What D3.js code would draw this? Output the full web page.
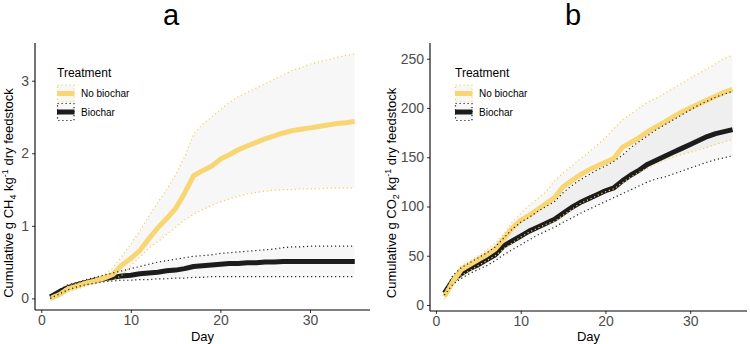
<!DOCTYPE html>
<html lang="en">
<head>
<meta charset="utf-8">
<title>Cumulative CH4 and CO2</title>
<style>
  body { margin: 0; background: #fff; }
  svg { font-family: "Liberation Sans", Arial, sans-serif; }
  .domain { display: none; }
</style>
</head>
<body>
<script src="https://cdn.jsdelivr.net/npm/d3@7"></script>
<script>

  // days of measurement
  const days = d3.range(1, 36);

  // panel a: cumulative CH4 (g per kg dry feedstock)
  const ch4NoMean = [0.00, 0.05, 0.13, 0.17, 0.21, 0.24, 0.28, 0.33, 0.46, 0.55, 0.66, 0.82, 0.97, 1.10, 1.24, 1.45, 1.69, 1.76, 1.82, 1.92, 1.98, 2.05, 2.10, 2.15, 2.20, 2.24, 2.28, 2.31, 2.33, 2.35, 2.37, 2.39, 2.41, 2.42, 2.44];
  const ch4NoHi   = [0.02, 0.08, 0.17, 0.21, 0.25, 0.29, 0.33, 0.42, 0.58, 0.75, 0.93, 1.13, 1.32, 1.50, 1.70, 1.95, 2.26, 2.40, 2.50, 2.60, 2.70, 2.78, 2.84, 2.90, 2.96, 3.02, 3.08, 3.14, 3.18, 3.23, 3.26, 3.29, 3.32, 3.35, 3.37];
  const ch4NoLo   = [-0.02, 0.02, 0.09, 0.13, 0.17, 0.20, 0.23, 0.25, 0.32, 0.45, 0.57, 0.69, 0.78, 0.88, 0.98, 1.08, 1.16, 1.22, 1.28, 1.33, 1.37, 1.41, 1.44, 1.46, 1.48, 1.49, 1.50, 1.50, 1.51, 1.51, 1.51, 1.52, 1.52, 1.52, 1.52];
  const ch4BioMean = [0.02, 0.09, 0.15, 0.19, 0.22, 0.25, 0.27, 0.29, 0.31, 0.32, 0.34, 0.35, 0.36, 0.38, 0.39, 0.41, 0.44, 0.45, 0.46, 0.47, 0.48, 0.48, 0.49, 0.49, 0.50, 0.50, 0.51, 0.51, 0.51, 0.51, 0.51, 0.51, 0.51, 0.51, 0.51];
  const ch4BioHi   = [0.03, 0.12, 0.19, 0.22, 0.26, 0.29, 0.32, 0.35, 0.38, 0.41, 0.44, 0.47, 0.50, 0.52, 0.54, 0.56, 0.58, 0.59, 0.60, 0.62, 0.63, 0.64, 0.65, 0.66, 0.67, 0.68, 0.70, 0.71, 0.71, 0.72, 0.72, 0.72, 0.72, 0.72, 0.72];
  const ch4BioLo   = [0.00, 0.06, 0.12, 0.16, 0.19, 0.21, 0.23, 0.24, 0.25, 0.25, 0.26, 0.26, 0.27, 0.27, 0.28, 0.28, 0.29, 0.29, 0.30, 0.30, 0.30, 0.30, 0.30, 0.30, 0.30, 0.30, 0.30, 0.30, 0.30, 0.30, 0.30, 0.30, 0.30, 0.30, 0.30];

  // panel b: cumulative CO2 (g per kg dry feedstock)
  const co2NoMean = [8.5, 24, 36, 41, 46, 51, 57, 67, 78, 86, 91, 97, 103, 109, 120, 126, 132, 137, 141, 145, 149, 160, 165, 170, 176, 181, 186, 191, 196, 200, 204, 208, 212, 216, 219];
  const co2NoHi   = [11, 28, 40, 45, 50, 56, 63, 72, 84, 93, 101, 108, 115, 126, 134, 141, 148, 155, 162, 170, 179, 188, 194, 200, 206, 210, 215, 220, 225, 230, 235, 240, 245, 250, 254];
  const co2NoLo   = [6, 20, 30, 35, 40, 45, 50, 57, 63, 69, 74, 78, 82, 85, 91, 97, 103, 107, 111, 115, 118, 124, 130, 135, 139, 143, 147, 150, 153, 155, 157.5, 160, 163, 165.5, 168];
  const co2BioMean = [12, 25, 32, 37, 41, 46, 51, 60, 65, 70, 75, 79, 83, 87, 93, 99, 104, 108, 112, 116, 119, 126, 132, 137, 143, 147, 151, 155, 159, 163, 167, 171, 174, 176, 178];
  const co2BioHi   = [14, 30, 38, 43, 48, 53, 59, 68, 77, 84, 89, 95, 100, 105, 114, 121, 127, 132, 137, 141, 146, 152, 160, 166, 172, 178, 183, 188, 193, 198, 203, 207, 211, 214, 217];
  const co2BioLo   = [10, 21, 27, 32, 36, 40, 45, 51, 56, 61, 66, 71, 75, 79, 84, 88, 93, 97, 101, 105, 109, 113, 117, 121, 125, 128, 130, 133, 136, 139, 142, 145, 147.5, 149.5, 151.5];

  const xTicks = [0, 10, 20, 30];
  const ch4Ticks = [0, 1, 2, 3];
  const co2Ticks = [0, 50, 100, 150, 200, 250];
  const treatments = ["No biochar", "Biochar"];

  const yellow = "#f8d673";
  const dark = "#1c1c1c";

  const svg = d3.select("body").append("svg")
      .attr("width", 750)
      .attr("height", 344);

  function styleAxis(sel) {
    sel.attr("font-family", null).attr("font-size", null);
    sel.selectAll(".tick text")
        .style("font-size", "14px")
        .attr("fill", "#4d4d4d");
    sel.selectAll(".tick line").attr("stroke", "#333");
  }

  function drawPanel(p) {
    const x = d3.scaleLinear().domain([-0.7, 36.7]).range([p.left, p.right]);
    const y = d3.scaleLinear().domain(p.yDomain).range([p.bottom, p.top]);
    const g = svg.append("g");

    const series = [
      {name: treatments[0], mean: p.noMean, hi: p.noHi, lo: p.noLo, color: yellow},
      {name: treatments[1], mean: p.bioMean, hi: p.bioHi, lo: p.bioLo, color: dark}
    ];

    const area = d3.area()
        .x(function (d, i) { return x(days[i]); })
        .y0(function (d) { return y(d[0]); })
        .y1(function (d) { return y(d[1]); });
    const line = d3.line()
        .x(function (d, i) { return x(days[i]); })
        .y(function (d) { return y(d); });

    // ribbons
    series.forEach(function (s) {
      g.append("path")
          .datum(s.lo.map(function (v, i) { return [v, s.hi[i]]; }))
          .attr("d", area)
          .attr("fill", "#000")
          .attr("fill-opacity", 0.03);
    });

    // mean lines
    series.slice().reverse().forEach(function (s) {
      g.append("path")
          .datum(s.mean)
          .attr("d", line)
          .attr("fill", "none")
          .attr("stroke", s.color)
          .attr("stroke-width", 5)
          .attr("stroke-linejoin", "round");
    });

    // dotted ribbon edges
    series.forEach(function (s) {
      [s.hi, s.lo].forEach(function (arr) {
        g.append("path")
            .datum(arr)
            .attr("d", line)
            .attr("fill", "none")
            .attr("stroke", s.color === yellow ? "#f3cf52" : "#222")
            .attr("stroke-width", 1.2)
            .attr("stroke-dasharray", "1.2,2.8");
      });
    });

    // axes
    g.append("g")
        .attr("transform", "translate(0," + p.bottom + ")")
        .call(d3.axisBottom(x).tickValues(xTicks).tickFormat(d3.format("d")).tickSize(3).tickPadding(2))
        .call(styleAxis);
    g.append("g")
        .attr("transform", "translate(" + p.left + ",0)")
        .call(d3.axisLeft(y).tickValues(p.yTicks).tickFormat(d3.format("d")).tickSize(3).tickPadding(3))
        .call(styleAxis);

    g.append("line")
        .attr("x1", p.left).attr("x2", p.right)
        .attr("y1", p.bottom).attr("y2", p.bottom)
        .attr("stroke", "#000").attr("stroke-width", 1.1);
    g.append("line")
        .attr("x1", p.left).attr("x2", p.left)
        .attr("y1", p.top).attr("y2", p.bottom)
        .attr("stroke", "#000").attr("stroke-width", 1.1);

    // titles
    g.append("text")
        .attr("x", p.titleX).attr("y", 25)
        .attr("text-anchor", "middle")
        .style("font-size", "29px")
        .text(p.title);

    g.append("text")
        .attr("x", (p.left + p.right) / 2).attr("y", 341)
        .attr("text-anchor", "middle")
        .style("font-size", "13px")
        .text("Day");

    const yl = g.append("text")
        .attr("transform", "translate(" + p.ylabX + ",193) rotate(-90)")
        .attr("text-anchor", "middle")
        .style("font-size", "13px");
    yl.append("tspan").text("Cumulative g " + p.gas);
    yl.append("tspan").attr("dy", 3).style("font-size", "9px").text(p.sub);
    yl.append("tspan").attr("dy", -3).text(" kg");
    yl.append("tspan").attr("dy", -5).style("font-size", "9px").text("-1");
    yl.append("tspan").attr("dy", 5).text(" dry feedstock");

    // legend
    const lg = g.append("g").attr("transform", "translate(" + p.legX + ",0)");
    lg.append("text")
        .attr("x", 0).attr("y", 77)
        .style("font-size", "12px")
        .text("Treatment");
    series.forEach(function (s, i) {
      const ky = 84.5 + i * 18.5;
      const kc = lg.append("g");
      kc.append("rect")
          .attr("x", 0.5).attr("y", ky + 0.5)
          .attr("width", 16.5).attr("height", 17)
          .attr("fill", "#000").attr("fill-opacity", 0.03)
          .attr("stroke", s.color === yellow ? "#f3cf52" : "#222")
          .attr("stroke-width", 1.2)
          .attr("stroke-dasharray", "1.2,2.8");
      kc.append("line")
          .attr("x1", 0).attr("x2", 17.5)
          .attr("y1", ky + 9).attr("y2", ky + 9)
          .attr("stroke", s.color).attr("stroke-width", 5);
      lg.append("text")
          .attr("x", 24).attr("y", ky + 12.5)
          .style("font-size", "10px")
          .text(s.name);
    });
  }

  drawPanel({
    left: 35, right: 370, top: 43, bottom: 310,
    yDomain: [-0.16, 3.52], yTicks: ch4Ticks,
    title: "a", titleX: 171, legX: 57, ylabX: 12.5,
    gas: "CH", sub: "4",
    noMean: ch4NoMean, noHi: ch4NoHi, noLo: ch4NoLo,
    bioMean: ch4BioMean, bioHi: ch4BioHi, bioLo: ch4BioLo
  });

  drawPanel({
    left: 430, right: 747, top: 43, bottom: 311,
    yDomain: [-6.1, 266], yTicks: co2Ticks,
    title: "b", titleX: 573, legX: 455, ylabX: 396,
    gas: "CO", sub: "2",
    noMean: co2NoMean, noHi: co2NoHi, noLo: co2NoLo,
    bioMean: co2BioMean, bioHi: co2BioHi, bioLo: co2BioLo
  });

</script>
</body>
</html>
